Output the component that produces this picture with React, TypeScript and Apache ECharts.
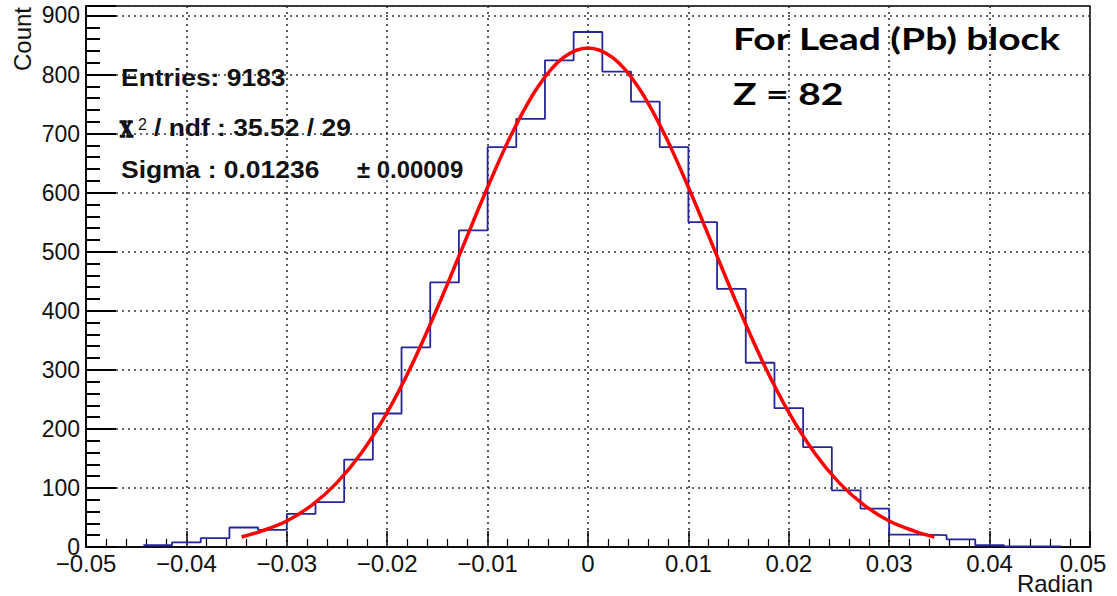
import React, { useEffect, useRef } from "react";
import * as echarts from "echarts";

// Histogram binning (35 bins between -0.05 and 0.05)
const BIN_MIN = -0.05;
const BIN_MAX = 0.05;
const BIN_COUNT = 35;

// Counts per bin
const counts = [
  0, 0, 3, 8, 15, 33, 29, 56, 76, 148,
  226, 338, 448, 536, 677, 725, 824, 872, 805, 754,
  677, 550, 437, 312, 235, 169, 96, 65, 21, 20,
  13, 3, 1, 1, 0,
];

// Gaussian fit curve
const fitX = [
  -0.0345, -0.0325, -0.03, -0.0275, -0.025, -0.0225, -0.02, -0.0175, -0.015, -0.0125,
  -0.01, -0.0075, -0.005, -0.0025, 0, 0.0025, 0.005, 0.0075, 0.01, 0.0125,
  0.015, 0.0175, 0.02, 0.0225, 0.025, 0.0275, 0.03, 0.0325, 0.0345,
];
const fitY = [
  17, 27, 44, 71, 109, 161, 228, 310, 405, 507,
  609, 703, 779, 828, 845, 828, 779, 703, 609, 507,
  405, 310, 228, 161, 109, 71, 44, 27, 17,
];

const Y_MAX = 916;
const Y_INTERVAL = 100;
const Y_MINOR_SPLIT = 5;
const statsLines = ["Entries: 9183", "/ ndf : 35.52 / 29", "Sigma : 0.01236", "± 0.00009"];
const titleLines = ["For Lead (Pb) block", "Z = 82"];

const SANS = "'Liberation Sans', Arial, Helvetica, sans-serif";

const GRID = { left: 86, right: 27, top: 6, bottom: 49 };
const CHART_W = 1117;

export default function App() {
  const ref = useRef<HTMLDivElement>(null);

  useEffect(() => {
    const chart = echarts.init(ref.current!, null, { renderer: "svg" });
    const w = (BIN_MAX - BIN_MIN) / BIN_COUNT;
    const first = counts.findIndex((c) => c > 0);
    let last = counts.length - 1;
    while (last > 0 && counts[last] === 0) last--;
    const hist: number[][] = [];
    for (let k = first; k <= last; k++) hist.push([BIN_MIN + k * w, counts[k]]);
    hist.push([BIN_MIN + (last + 1) * w, counts[last]]);

    const fit = fitX.map((x, i) => [x, fitY[i]]);

    // Inner y-axis ticks (ROOT style), expressed in axis units
    const plotW = CHART_W - GRID.left - GRID.right;
    const unitPerPx = (BIN_MAX - BIN_MIN) / plotW;
    const majorLen = 30 * unitPerPx;
    const minorLen = 14 * unitPerPx;
    const tickLines: any[] = [];
    const step = Y_INTERVAL / Y_MINOR_SPLIT;
    for (let i = 0; i * step <= Y_MAX; i++) {
      const v = i * step;
      const isMajor = i % Y_MINOR_SPLIT === 0;
      tickLines.push([
        { coord: [BIN_MIN, v] },
        { coord: [BIN_MIN + (isMajor ? majorLen : minorLen), v] },
      ]);
    }

    const xFmt = (v: number) => {
      const r = Math.round(v * 100) / 100;
      if (r === 0) return "0";
      const s = Math.abs(r).toFixed(2);
      if (r < 0) return "\u2212" + s;
      if (r >= 0.05) return "{m|" + s + "}";
      return s;
    };

    const option: any = {
      animation: false,
      grid: { ...GRID, show: true, borderColor: "#000", borderWidth: 1.5 },
      xAxis: {
        type: "value",
        min: BIN_MIN,
        max: BIN_MAX,
        interval: 0.01,
        axisLine: { show: true, onZero: false, lineStyle: { color: "#000", width: 1.5 } },
        axisTick: { show: true, inside: true, length: 16, lineStyle: { color: "#000", width: 1.5 } },
        minorTick: { show: true, splitNumber: 5, length: 8, lineStyle: { color: "#000", width: 1.2 } },
        splitLine: { show: true, lineStyle: { color: "#333", width: 1.6, type: [2, 4] } },
        axisLabel: {
          show: true,
          margin: 4,
          fontSize: 24,
          fontFamily: SANS,
          color: "#111",
          hideOverlap: false,
          formatter: xFmt,
          rich: {
            m: { fontSize: 24, fontFamily: SANS, color: "#111", padding: [0, 14, 0, 0] },
          },
        },
      },
      yAxis: {
        type: "value",
        min: 0,
        max: Y_MAX,
        interval: Y_INTERVAL,
        axisLine: { show: true, onZero: false, lineStyle: { color: "#000", width: 1.5 } },
        axisTick: { show: true, inside: true, length: 30, lineStyle: { color: "#000", width: 2 } },
        minorTick: { show: true, splitNumber: Y_MINOR_SPLIT, length: 14, lineStyle: { color: "#000", width: 1.6 } },
        splitLine: { show: true, lineStyle: { color: "#333", width: 1.6, type: [2, 4] } },
        axisLabel: {
          margin: 6,
          fontSize: 23,
          fontFamily: SANS,
          color: "#111",
          showMaxLabel: false,
        },
      },
      series: [
        {
          type: "line",
          data: hist,
          step: "end",
          symbol: "none",
          lineStyle: { color: "#26269a", width: 1.8 },
          z: 3,
          markLine: {
            silent: true,
            symbol: ["none", "none"],
            label: { show: false },
            lineStyle: { color: "#000", width: 1.8, type: "solid" },
            emphasis: { disabled: true },
            data: tickLines,
          },
        },
        {
          type: "line",
          data: fit,
          smooth: 0.35,
          symbol: "none",
          lineStyle: { color: "#ff0000", width: 3.5 },
          z: 4,
        },
      ],
      graphic: [
        {
          type: "text",
          x: 22,
          y: 7,
          rotation: Math.PI / 2,
          style: { text: "Count", fontSize: 24, fontFamily: SANS, fill: "#111", align: "right", verticalAlign: "middle" },
        },
        {
          type: "text",
          x: 1093,
          y: 583,
          style: { text: "Radian", fontSize: 24, fontFamily: SANS, fill: "#111", align: "right", verticalAlign: "middle" },
        },
        {
          type: "text",
          x: 121,
          y: 78.5,
          scaleX: 1.15,
          style: { text: statsLines[0], fontSize: 23, fontWeight: "bold", fontFamily: SANS, fill: "#111", verticalAlign: "middle" },
        },
        {
          type: "text",
          x: 120,
          y: 128.5,
          scaleX: 0.72,
          style: {
            text: "\u03a7",
            fontSize: 23,
            fontWeight: "bold",
            fontFamily: "'DejaVu Serif', serif",
            fill: "#111",
            stroke: "#111",
            lineWidth: 1.6,
            verticalAlign: "middle",
          },
        },
        {
          type: "text",
          x: 138,
          y: 124,
          style: { text: "2", fontSize: 16, fontFamily: SANS, fill: "#111", verticalAlign: "middle" },
        },
        {
          type: "text",
          x: 154,
          y: 128.5,
          scaleX: 1.15,
          style: { text: statsLines[1], fontSize: 23, fontWeight: "bold", fontFamily: SANS, fill: "#111", verticalAlign: "middle" },
        },
        {
          type: "text",
          x: 121,
          y: 170,
          scaleX: 1.15,
          style: { text: statsLines[2], fontSize: 23, fontWeight: "bold", fontFamily: SANS, fill: "#111", verticalAlign: "middle" },
        },
        {
          type: "text",
          x: 357,
          y: 170,
          scaleX: 1.04,
          style: { text: statsLines[3], fontSize: 23, fontWeight: "bold", fontFamily: SANS, fill: "#111", verticalAlign: "middle" },
        },
        {
          type: "text",
          x: 733,
          y: 38,
          scaleX: 1.3,
          style: { text: titleLines[0], fontSize: 30, fontWeight: "bold", fontFamily: "Lato, 'Open Sans', sans-serif", fill: "#000", verticalAlign: "middle" },
        },
        {
          type: "text",
          x: 733,
          y: 93,
          scaleX: 1.3,
          style: { text: titleLines[1], fontSize: 30, fontWeight: "bold", fontFamily: "Lato, 'Open Sans', sans-serif", fill: "#000", verticalAlign: "middle" },
        },
      ],
    };

    chart.setOption(option);
    return () => chart.dispose();
  }, []);

  return (
    <div
      ref={ref}
      style={{ position: "fixed", left: 0, top: 0, width: CHART_W, height: 596, background: "#fff" }}
    />
  );
}
